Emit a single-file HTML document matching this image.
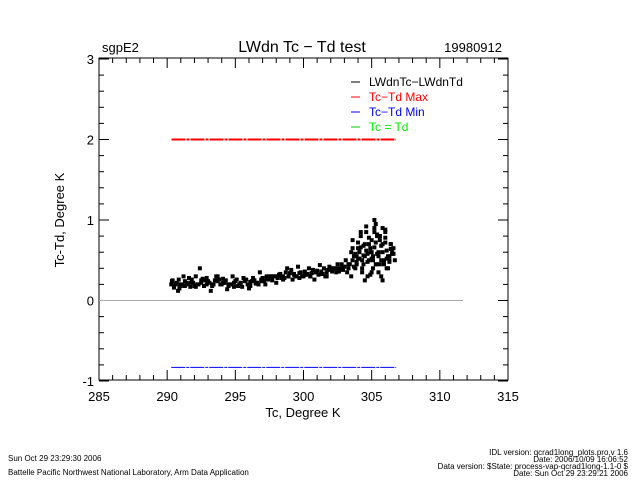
<!DOCTYPE html>
<html><head><meta charset="utf-8"><style>
body{margin:0;background:#fff;width:640px;height:480px;overflow:hidden}
svg text{font-family:"Liberation Sans",sans-serif}
</style></head><body>
<svg id="c" width="640" height="480">
<text x="102" y="52" font-size="13">sgpE2</text>
<text x="302" y="52" font-size="16" text-anchor="middle">LWdn Tc − Td test</text>
<text x="502" y="52" font-size="13" text-anchor="end">19980912</text>
<rect x="99" y="58" width="409" height="322" fill="none" stroke="#000"/>
<g id="ticks"></g>
<g id="marks"></g>
<text x="303" y="417" font-size="13" text-anchor="middle">Tc, Degree K</text>
<text transform="translate(64,220) rotate(-90)" font-size="13" text-anchor="middle">Tc-Td, Degree K</text>
<g font-size="12">
<line x1="351" y1="82" x2="360" y2="82" stroke="#000"/><text x="369" y="86" fill="#000">LWdnTc−LWdnTd</text>
<line x1="351" y1="97" x2="360" y2="97" stroke="#f00"/><text x="369" y="101" fill="#f00">Tc−Td Max</text>
<line x1="351" y1="112" x2="360" y2="112" stroke="#00f"/><text x="369" y="116" fill="#00f">Tc−Td Min</text>
<line x1="351" y1="127" x2="360" y2="127" stroke="#0c0"/><text x="369" y="131" fill="#0e0">Tc = Td</text>
</g>
<g font-size="8">
<text x="8" y="461">Sun Oct 29 23:29:30 2006</text>
<text x="8" y="475">Battelle Pacific Northwest National Laboratory, Arm Data Application</text>
<text x="628" y="455" text-anchor="end">IDL version: qcrad1long_plots.pro,v 1.6</text>
<text x="628" y="462" text-anchor="end">Date: 2006/10/09 16:06:52</text>
<text x="628" y="469" text-anchor="end">Data version: $State: process-vap-qcrad1long-1.1-0 $</text>
<text x="628" y="476" text-anchor="end">Date: Sun Oct 29 23:29:21 2006</text>
</g>
</svg>
<script>
const xTicks=[285,290,295,300,305,310,315];
const yTicks=[-1,0,1,2,3];
const diffX=[290.3,290.5,290.7,290.9,291.1,291.3,291.5,291.7,291.9,292.1,292.3,292.5,292.7,292.9,293.1,293.3,293.5,293.7,293.9,294.1,294.3,294.5,294.7,294.9,295.1,295.3,295.5,295.7,295.9,296.1,296.3,296.5,296.7,296.9,297.1,297.3,297.5,297.7,297.9,298.1,298.3,298.5,298.7,298.9,299.1,299.3,299.5,299.7,299.9,300.1,300.3,300.5,300.7,300.9,301.1,301.3,301.5,301.7,301.9,302.1,302.3,302.5,302.7,302.9,303.1,303.3,303.5,303.7,303.9,304.1,304.3,304.5,304.7,304.9,305.1,305.3,305.5,305.7,305.9,306.1,306.3,306.5,306.7,
290.4,290.8,291.2,291.6,292.0,292.4,292.8,293.2,293.6,294.0,294.4,294.8,295.2,295.6,296.0,296.4,296.8,297.2,297.6,298.0,298.4,298.8,299.2,299.6,300.0,300.4,300.8,301.2,301.6,302.0,302.4,302.8,303.2,303.6,303.8,304.0,304.2,304.4,304.6,304.8,305.0,305.2,305.4,305.6,305.8,306.0,306.2,306.4,306.6,
303.5,303.9,304.3,304.7,305.1,305.5,305.9,306.3,304.5,305.0,305.3,305.7,306.1,304.1,304.9,305.6,306.0,305.8,305.4,305.2,
290.35,290.6,290.85,291.0,291.4,291.8,292.2,292.6,293.0,293.4,293.8,294.2,294.6,295.0,295.4,295.8,296.2,296.6,297.0,297.4,297.8,298.2,298.6,299.0,299.4,299.8,300.2,300.6,301.0,301.4,301.8,302.2,302.6,303.0,303.4,
290.5,290.9,291.3,291.7,292.1,292.5,292.9,293.3,293.7,294.1,294.5,294.9,295.3,295.7,296.1,296.5,296.9,297.3,297.7,298.1,298.5,298.9,299.3,299.7,300.1,300.5,300.9,301.3,301.7,302.1,302.5,302.9,303.3,
303.6,303.8,304.0,304.2,304.4,304.6,304.8,305.0,305.2,305.4,305.6,305.8,306.0,306.2,306.4,306.6,303.7,303.9,304.1,304.3,304.5,304.7,304.9,305.1,305.3,305.5,305.7,305.9,306.1,306.3,306.5,303.6,304.0,304.4,304.8,305.2,305.6,306.0,306.4,305.0,305.4,305.8,304.6,304.2];
const diffY=[0.2,0.18,0.22,0.15,0.2,0.24,0.2,0.17,0.22,0.3,0.2,0.25,0.18,0.28,0.22,0.2,0.25,0.3,0.2,0.22,0.25,0.18,0.2,0.22,0.26,0.2,0.17,0.24,0.2,0.23,0.28,0.22,0.2,0.26,0.24,0.28,0.3,0.25,0.3,0.28,0.33,0.3,0.35,0.3,0.38,0.32,0.3,0.34,0.3,0.36,0.33,0.3,0.38,0.35,0.32,0.36,0.4,0.35,0.42,0.38,0.4,0.45,0.4,0.42,0.5,0.45,0.6,0.55,0.48,0.62,0.5,0.7,0.58,0.65,0.55,0.72,0.6,0.68,0.5,0.62,0.55,0.6,0.5,
0.25,0.12,0.3,0.28,0.18,0.4,0.25,0.12,0.3,0.2,0.14,0.3,0.18,0.28,0.15,0.25,0.35,0.2,0.3,0.22,0.28,0.4,0.26,0.42,0.3,0.4,0.26,0.44,0.3,0.4,0.35,0.45,0.35,0.75,0.4,0.65,0.8,0.45,0.85,0.5,0.75,0.9,0.45,0.8,0.7,0.85,0.4,0.7,0.65,
0.3,0.55,0.35,0.3,0.4,0.35,0.45,0.5,0.25,0.35,0.95,0.3,0.4,0.6,0.32,0.45,0.78,0.25,0.82,1.0,
0.24,0.2,0.26,0.18,0.22,0.26,0.2,0.27,0.24,0.2,0.26,0.22,0.2,0.24,0.22,0.26,0.24,0.22,0.28,0.26,0.3,0.32,0.28,0.34,0.3,0.35,0.32,0.34,0.37,0.33,0.38,0.4,0.36,0.42,0.45,
0.16,0.2,0.18,0.22,0.17,0.22,0.2,0.18,0.24,0.27,0.2,0.17,0.2,0.25,0.18,0.21,0.24,0.3,0.27,0.3,0.26,0.3,0.33,0.28,0.32,0.3,0.35,0.33,0.3,0.36,0.4,0.38,0.4,
0.5,0.58,0.52,0.66,0.56,0.62,0.7,0.52,0.66,0.58,0.75,0.6,0.72,0.55,0.64,0.58,0.42,0.45,0.52,0.4,0.55,0.48,0.6,0.5,0.45,0.55,0.5,0.46,0.52,0.48,0.58,0.65,0.72,0.68,0.78,0.85,0.8,0.88,0.7,0.6,0.8,0.9,0.92,0.85];
const refX=[290.3,306.8];
const maxY=[2.0,2.0];
const minY=[-0.83,-0.83];
const zeroX=[285,311.7];
const zeroY=[0,0];
const X=v=>99+(v-285)*409/30;
const Y=v=>300.5-v*80.5;
const NS='http://www.w3.org/2000/svg';
function el(t,a,p){const e=document.createElementNS(NS,t);for(const k in a)e.setAttribute(k,a[k]);p.appendChild(e);return e;}
const tg=document.getElementById('ticks'),mg=document.getElementById('marks');
for(let v=285;v<=315;v++){const l=(v%5===0)?10:5;const x=X(v);
 el('line',{x1:x,y1:380,x2:x,y2:380-l,stroke:'#000'},tg);el('line',{x1:x,y1:58,x2:x,y2:58+l,stroke:'#000'},tg);}
for(let i=-5;i<=15;i++){const v=i/5;const l=(i%5===0)?10:5;const y=Y(v);
 el('line',{x1:99,y1:y,x2:99+l,y2:y,stroke:'#000'},tg);el('line',{x1:508,y1:y,x2:508-l,y2:y,stroke:'#000'},tg);}
xTicks.forEach(v=>{const t=el('text',{x:X(v),y:401,'font-size':13,'text-anchor':'middle'},tg);t.textContent=v;

});
yTicks.forEach(v=>{const t=el('text',{x:94,y:Y(v)+5,'font-size':13,'text-anchor':'end'},tg);t.textContent=v;

});
const z=el('line',{x1:X(zeroX[0]),y1:Y(zeroY[0]),x2:X(zeroX[1]),y2:Y(zeroY[1]),stroke:'#aaa'},mg);


const mx=el('line',{x1:X(refX[0]),y1:Y(maxY[0]),x2:X(refX[1]),y2:Y(maxY[1]),stroke:'#ff0000','stroke-width':2,'stroke-dasharray':'14 1 3 1','shape-rendering':'crispEdges'},mg);


const mn=el('line',{x1:X(refX[0]),y1:Y(minY[0]),x2:X(refX[1]),y2:Y(minY[1]),stroke:'#00f','stroke-width':1,'stroke-dasharray':'14 1 3 1'},mg);


diffX.forEach((v,i)=>{const r=el('rect',{x:X(v)-2,y:Y(diffY[i])-2,width:4,height:4,fill:'#000'},mg);

});
</script>
</body></html>
